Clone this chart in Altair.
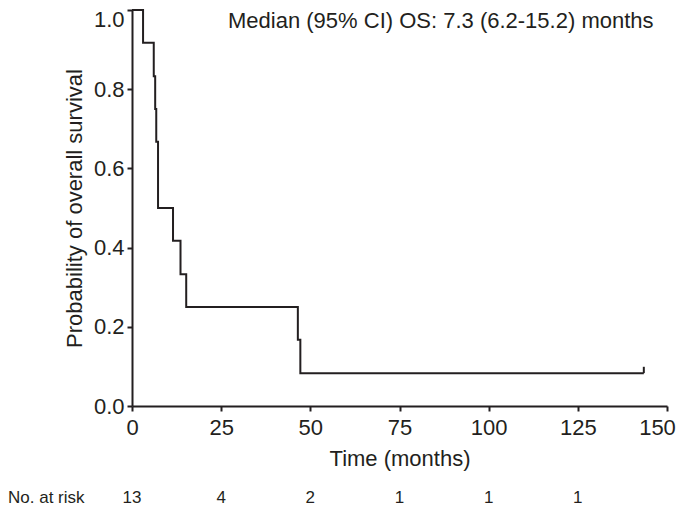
import altair as alt
import pandas as pd

# Kaplan-Meier step points (time in months, survival probability)
times = [0, 3.1, 6.1, 6.5, 6.8, 7.3, 11.5, 13.6, 15.2, 46.5, 47.2, 143.5]
surv = [1.0, 0.917, 0.833, 0.75, 0.667, 0.5, 0.417, 0.333, 0.25, 0.167, 0.083, 0.083]

censor_time = [143.5]
censor_low = [0.083]
censor_high = [0.099]

risk_times = [0, 25, 50, 75, 100, 125]
risk_counts = ["13", "4", "2", "1", "1", "1"]

x_ticks = [0, 25, 50, 75, 100, 125, 150]
y_ticks = [0.0, 0.2, 0.4, 0.6, 0.8, 1.0]

median_label = "Median (95% CI) OS: 7.3 (6.2-15.2) months"
risk_label = "No. at risk"

FONT = "Liberation Sans"
INK = "#231f20"

km = pd.DataFrame({"time": times, "surv": surv})
cens = pd.DataFrame({"time": censor_time, "lo": censor_low, "hi": censor_high})
risk = pd.DataFrame({"time": risk_times, "n": risk_counts})

xscale = alt.Scale(domain=[0, 150], nice=False, zero=False)
yscale = alt.Scale(domain=[0, 1], nice=False)

line = alt.Chart(km).mark_line(interpolate="step-after", color=INK, strokeWidth=2).encode(
    x=alt.X("time:Q", scale=xscale,
            axis=alt.Axis(title="Time (months)", values=x_ticks, format="d",
                          titlePadding=10, labelPadding=6, labelFlush=False,
                          labelOffset={"condition": {"test": "datum.value == 150", "value": -10},
                                       "value": 0})),
    y=alt.Y("surv:Q", scale=yscale,
            axis=alt.Axis(title="Probability of overall survival", values=y_ticks,
                          format=".1f", labelPadding=3, titlePadding=7, labelFlush=False,
                          labelOffset={"condition": {"test": "datum.value == 1", "value": 9},
                                       "value": 0})),
)

cens_mark = alt.Chart(cens).mark_rule(color=INK, strokeWidth=2).encode(
    x="time:Q", y="lo:Q", y2="hi:Q"
)

median = alt.Chart(pd.DataFrame({"t": [median_label]})).mark_text(
    align="left", baseline="alphabetic", fontSize=22, font=FONT, color=INK
).encode(x=alt.value(96), y=alt.value(18), text="t:N")

risk_nums = alt.Chart(risk).mark_text(
    align="center", baseline="middle", fontSize=17, font=FONT, color=INK
).encode(x=alt.X("time:Q", scale=xscale), y=alt.value(488), text="n:N")

risk_title = alt.Chart(pd.DataFrame({"t": [risk_label]})).mark_text(
    align="left", baseline="middle", fontSize=17, font=FONT, color=INK
).encode(x=alt.value(-124), y=alt.value(488), text="t:N")

chart = alt.layer(line, cens_mark, median, risk_nums, risk_title).properties(
    width=535, height=396,
    autosize=alt.AutoSizeParams(type="none"),
    padding={"left": 124, "top": 2, "right": 10, "bottom": 100},
).configure_view(stroke=None).configure_axis(
    grid=False,
    domainColor=INK, domainWidth=2,
    tickColor=INK, tickWidth=2, tickSize=5,
    labelFont=FONT, labelFontSize=22, labelColor=INK,
    titleFont=FONT, titleFontSize=22, titleColor=INK, titleFontWeight="normal",
)

chart.save("out.html", embed_options={"renderer": "svg", "actions": False})
